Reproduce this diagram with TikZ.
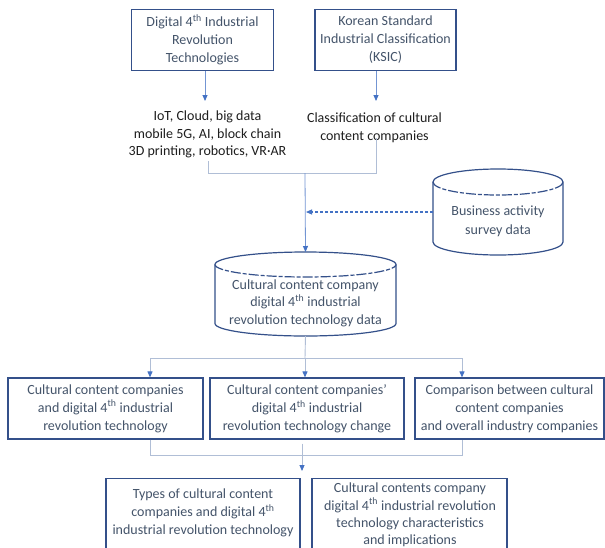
\documentclass[tikz,border=0pt]{standalone}
\usepackage{fontspec}
\setmainfont{Carlito}
\usetikzlibrary{arrows.meta}
\definecolor{boxc}{HTML}{34508A}
\definecolor{txtc}{HTML}{44546A}
\definecolor{arrc}{HTML}{4472C4}
\definecolor{linec}{HTML}{B0BED6}
\definecolor{blk}{HTML}{1E1E1E}
\begin{document}
\begin{tikzpicture}[x=1pt,y=-1pt,
  box/.style={draw=boxc, line width=1.2pt, text=txtc, align=center, inner sep=0pt,
    font=\fontsize{14}{18}\selectfont},
  bodytext/.style={text=txtc, align=center, inner sep=0pt, font=\fontsize{14}{17.5}\selectfont},
  plaintext/.style={text=blk, align=center, inner sep=0pt, font=\fontsize{14}{17.5}\selectfont},
  cyl/.style={draw=boxc, line width=1.2pt},
  cyltop/.style={draw=boxc, line width=1.2pt, dash pattern=on 10pt off 2pt on 4pt off 2pt},
  conn/.style={draw=linec, line width=0.9pt},
  arr/.style={draw=arrc!75, line width=0.8pt, -{Triangle[length=6pt,width=5pt,color=arrc]}},
  arrl/.style={draw=linec, line width=0.9pt, -{Triangle[length=6pt,width=5pt,color=arrc]}},
  darr/.style={draw=arrc, line width=1.1pt, dash pattern=on 3pt off 2pt,
    -{Triangle[length=6pt,width=5pt,color=arrc]}}]
\useasboundingbox (0,0) rectangle (605,547);
\clip (0,0) rectangle (605,547);
\fill[white] (0,0) rectangle (605,547);

% top boxes
\node[box, minimum width=142, minimum height=61] (b1) at (202.5,40)
  {Digital 4\textsuperscript{th} Industrial\\Revolution\\Technologies};
\node[box, minimum width=141, minimum height=61] (b2) at (385.5,40)
  {Korean Standard\\Industrial Classification\\(KSIC)};

% texts under boxes
\node[plaintext] (list) at (207.5,134.5)
  {IoT, Cloud, big data\\mobile 5G, AI, block chain\\3D printing, robotics, VR·AR};
\node[plaintext] (cls) at (374.5,128)
  {Classification of cultural\\content companies};

\coordinate (t1) at (205,101);
\coordinate (t2) at (376,101);
\draw[arr] (b1.south -| t1) -- (t1);
\draw[arr] (b2.south -| t2) -- (t2);

% bracket
\coordinate (bl) at (208.5,173);
\coordinate (br) at (376,173);
\coordinate (bm) at (305,173);
\draw[conn, shorten <=3pt] (list.south -| bl) -- (bl) -- (br) -- ([yshift=5pt]cls.south -| br);

% cylinder A (main data)
\node[bodytext] (cylA) at (305.5,303)
  {Cultural content company\\digital 4\textsuperscript{th} industrial\\revolution technology data};
\coordinate (cylAtop) at (305.5,252);
\coordinate (cylAbot) at (305.5,336);
\draw[cyl] (215,264.5) -- (215,323.5) arc[start angle=180, end angle=0, x radius=90.5, y radius=12.5]
  -- (396,264.5) arc[start angle=0, end angle=-180, x radius=90.5, y radius=12.5] -- cycle;
\draw[cyltop] (215,264.5) arc[start angle=180, end angle=0, x radius=90.5, y radius=12.5];

% cylinder B (survey data)
\node[bodytext, font=\fontsize{14}{19}\selectfont] (cylB) at (498,221.5)
  {Business activity\\survey data};
\coordinate (cylBleft) at (433,212);
\draw[cyl] (433,182) -- (433,242) arc[start angle=180, end angle=0, x radius=65, y radius=13]
  -- (563,182) arc[start angle=0, end angle=-180, x radius=65, y radius=13] -- cycle;
\draw[cyltop] (433,182) arc[start angle=180, end angle=0, x radius=65, y radius=13];

\draw[arr] (bm) -- (cylAtop);
\coordinate (dtip) at (306,212);
\draw[darr] (cylBleft) -- (dtip);

% split
\coordinate (sl) at (150,358);
\coordinate (sm) at (305,358);
\coordinate (sr) at (462,358);
\draw[conn] (cylAbot) -- (sm);
\draw[conn] (sl) -- (sr);

% row boxes
\node[box, minimum width=195, minimum height=61] (ra) at (105.5,408.5)
  {Cultural content companies\\and digital 4\textsuperscript{th} industrial\\revolution technology};
\node[box, minimum width=194, minimum height=61] (rb) at (307,408.5)
  {Cultural content companies’\\digital 4\textsuperscript{th} industrial\\revolution technology change};
\node[box, minimum width=189, minimum height=61] (rc) at (509.5,408.5)
  {Comparison between cultural\\content companies\\and overall industry companies};

\draw[arrl] (sl) -- (ra.north -| sl);
\draw[arrl] (sm) -- (rb.north -| sm);
\draw[arrl] (sr) -- (rc.north -| sr);

% join
\coordinate (jl) at (150,455);
\coordinate (jr) at (462,455);
\coordinate (jm) at (302,455);
\coordinate (jtip) at (302,471);
\draw[conn] (ra.south -| jl) -- (jl) -- (jr) -- (rc.south -| jr);
\draw[arrl, shorten <=4pt] (rb.south -| jm) -- (jtip);

% bottom boxes
\node[box, minimum width=194, minimum height=100, anchor=north] (bd) at (203,478) {};
\node[box, minimum width=195, minimum height=100, anchor=north] (be) at (409.5,478) {};
\node[bodytext, font=\fontsize{14}{18}\selectfont] (bdt) at (203,513)
  {Types of cultural content\\companies and digital 4\textsuperscript{th}\\industrial revolution technology};
\node[bodytext, font=\fontsize{14}{17.3}\selectfont] (bet) at (410,515)
  {Cultural contents company\\digital 4\textsuperscript{th} industrial revolution\\technology characteristics\\and implications};
\end{tikzpicture}
\end{document}
